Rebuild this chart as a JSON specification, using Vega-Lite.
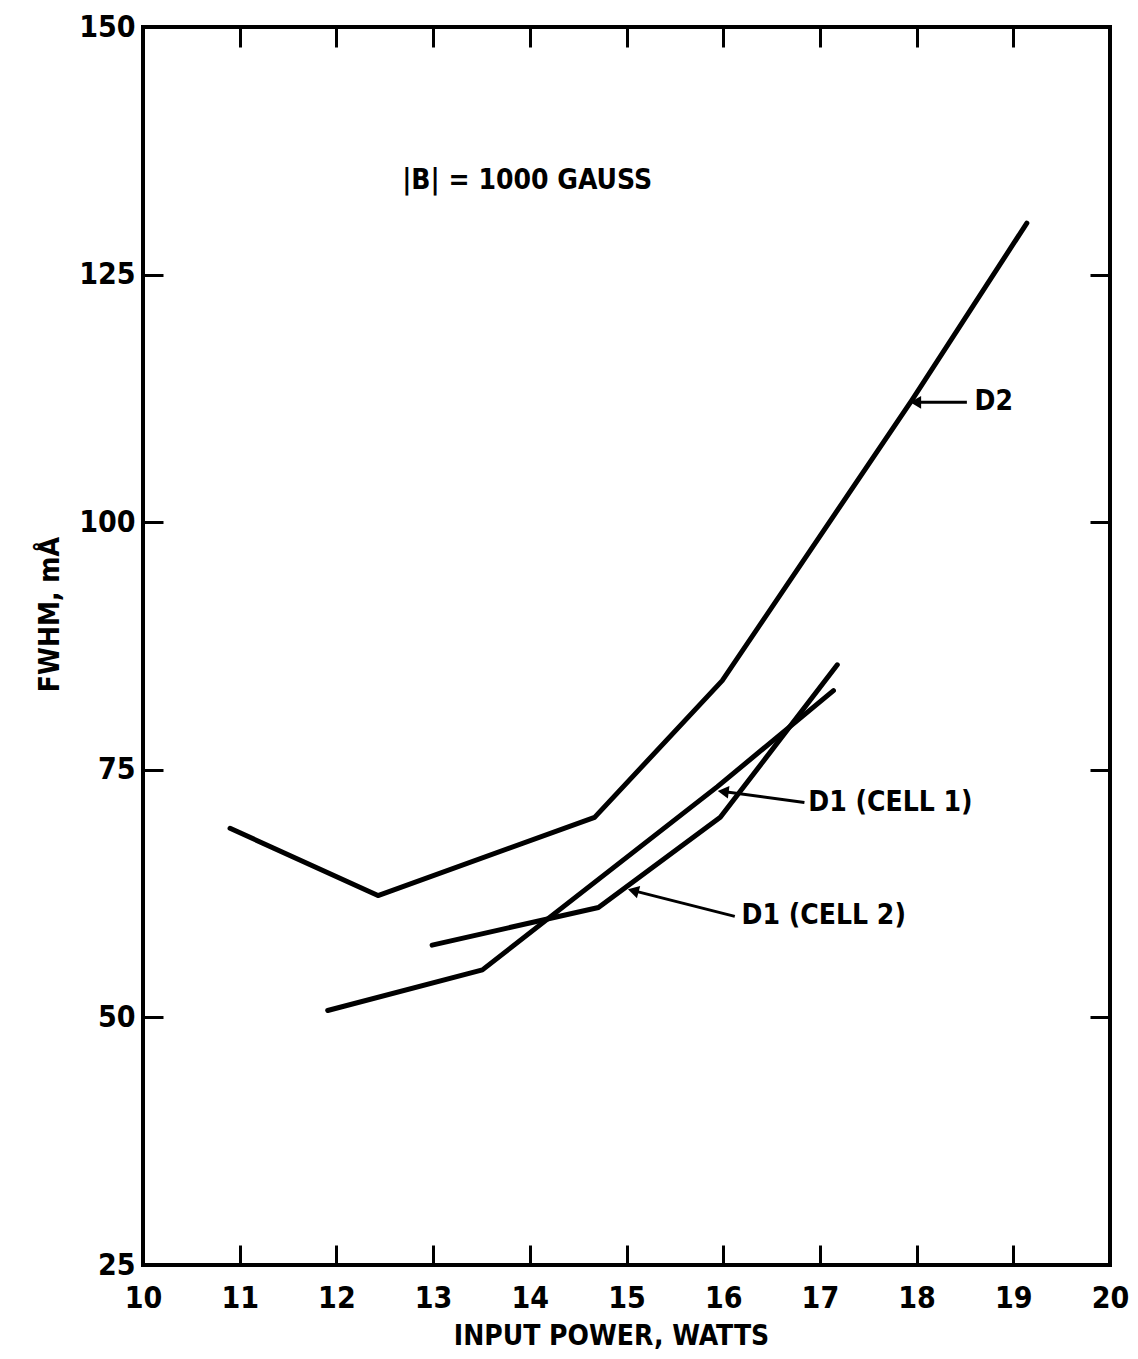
{
  "$schema": "https://vega.github.io/schema/vega-lite/v6.json",
  "autosize": "none",
  "width": 967,
  "height": 1238,
  "padding": {"left": 143, "top": 27, "right": 28, "bottom": 94},
  "background": "white",
  "config": {
    "view": {"stroke": "black", "strokeWidth": 4},
    "axis": {
      "grid": false,
      "domain": false,
      "tickColor": "black",
      "tickWidth": 3,
      "tickSize": -20,
      "labelFont": "DejaVu Sans Condensed",
      "labelFontWeight": "bold",
      "labelFontSize": 30,
      "labelColor": "black",
      "labelFlush": false,
      "labelOverlap": false,
      "titleFont": "DejaVu Sans Condensed",
      "titleFontWeight": "bold",
      "titleFontSize": 28,
      "titleColor": "black"
    },
    "text": {"font": "DejaVu Sans Condensed", "fontWeight": "bold", "fontSize": 28, "color": "black"}
  },
  "datasets": {
    "curves": [
      {"series": "D2", "power": 10.90, "fwhm": 69.1},
      {"series": "D2", "power": 12.43, "fwhm": 62.3},
      {"series": "D2", "power": 14.67, "fwhm": 70.2},
      {"series": "D2", "power": 15.99, "fwhm": 84.0},
      {"series": "D2", "power": 17.95, "fwhm": 112.3},
      {"series": "D2", "power": 19.14, "fwhm": 130.2},
      {"series": "D1 (CELL 1)", "power": 11.91, "fwhm": 50.7},
      {"series": "D1 (CELL 1)", "power": 13.51, "fwhm": 54.8},
      {"series": "D1 (CELL 1)", "power": 15.94, "fwhm": 73.3},
      {"series": "D1 (CELL 1)", "power": 17.14, "fwhm": 83.0},
      {"series": "D1 (CELL 2)", "power": 12.99, "fwhm": 57.3},
      {"series": "D1 (CELL 2)", "power": 14.71, "fwhm": 61.1},
      {"series": "D1 (CELL 2)", "power": 15.97, "fwhm": 70.2},
      {"series": "D1 (CELL 2)", "power": 17.18, "fwhm": 85.6}
    ],
    "labels": [
      {"text": "D2", "power": 18.60, "fwhm": 112.1},
      {"text": "D1 (CELL 1)", "power": 16.88, "fwhm": 71.6},
      {"text": "D1 (CELL 2)", "power": 16.19, "fwhm": 60.2},
      {"text": "|B|  =  1000 GAUSS", "power": 12.68, "fwhm": 134.5}
    ],
    "arrows": [
      {"series": "D2", "tipPower": 17.99, "tipFwhm": 112.1, "tailPower": 18.52, "tailFwhm": 112.1},
      {"series": "D1 (CELL 1)", "tipPower": 16.00, "tipFwhm": 72.8, "tailPower": 16.84, "tailFwhm": 71.7},
      {"series": "D1 (CELL 2)", "tipPower": 15.07, "tipFwhm": 62.8, "tailPower": 16.12, "tailFwhm": 60.2}
    ]
  },
  "resolve": {"axis": {"x": "independent", "y": "independent"}},
  "layer": [
    {
      "data": {"name": "curves"},
      "mark": {"type": "line", "color": "black", "strokeWidth": 5, "strokeJoin": "round", "strokeCap": "round"},
      "encoding": {
        "x": {"field": "power", "type": "quantitative",
              "scale": {"domain": [10, 20], "nice": false, "zero": false},
              "axis": {"orient": "bottom", "values": [10, 11, 12, 13, 14, 15, 16, 17, 18, 19, 20],
                       "labelPadding": 38, "title": "INPUT POWER, WATTS",
                       "titleX": 468, "titleY": 71, "titleBaseline": "middle", "titleAlign": "center"}},
        "y": {"field": "fwhm", "type": "quantitative",
              "scale": {"domain": [25, 150], "nice": false, "zero": false},
              "axis": {"orient": "left", "values": [25, 50, 75, 100, 125, 150],
                       "labelPadding": 28, "title": "FWHM, mÅ",
                       "titleX": -93, "titleY": 587, "titleAngle": -90, "titleBaseline": "middle", "titleAlign": "center"}},
        "detail": {"field": "series", "type": "nominal"}
      }
    },
    {
      "data": {"name": "labels"},
      "mark": {"type": "text", "align": "left", "baseline": "middle"},
      "encoding": {
        "x": {"field": "power", "type": "quantitative",
              "axis": {"orient": "top", "values": [11, 12, 13, 14, 15, 16, 17, 18, 19], "labels": false, "title": null}},
        "y": {"field": "fwhm", "type": "quantitative",
              "axis": {"orient": "right", "values": [50, 75, 100, 125], "labels": false, "title": null}},
        "text": {"field": "text", "type": "nominal"}
      }
    },
    {
      "data": {"name": "arrows"},
      "mark": {"type": "rule", "color": "black", "strokeWidth": 3},
      "encoding": {
        "x": {"field": "tipPower", "type": "quantitative", "axis": null},
        "y": {"field": "tipFwhm", "type": "quantitative", "axis": null},
        "x2": {"field": "tailPower"},
        "y2": {"field": "tailFwhm"}
      }
    },
    {
      "data": {"name": "arrows"},
      "transform": [{"filter": "datum.series === 'D2'"}],
      "mark": {"type": "point", "shape": "triangle-left", "filled": true, "color": "black", "size": 160, "opacity": 1, "angle": 0},
      "encoding": {
        "x": {"field": "tipPower", "type": "quantitative", "axis": null},
        "y": {"field": "tipFwhm", "type": "quantitative", "axis": null}
      }
    },
    {
      "data": {"name": "arrows"},
      "transform": [{"filter": "datum.series === 'D1 (CELL 1)'"}],
      "mark": {"type": "point", "shape": "triangle-left", "filled": true, "color": "black", "size": 160, "opacity": 1, "angle": 7},
      "encoding": {
        "x": {"field": "tipPower", "type": "quantitative", "axis": null},
        "y": {"field": "tipFwhm", "type": "quantitative", "axis": null}
      }
    },
    {
      "data": {"name": "arrows"},
      "transform": [{"filter": "datum.series === 'D1 (CELL 2)'"}],
      "mark": {"type": "point", "shape": "triangle-left", "filled": true, "color": "black", "size": 160, "opacity": 1, "angle": 15},
      "encoding": {
        "x": {"field": "tipPower", "type": "quantitative", "axis": null},
        "y": {"field": "tipFwhm", "type": "quantitative", "axis": null}
      }
    }
  ]
}
